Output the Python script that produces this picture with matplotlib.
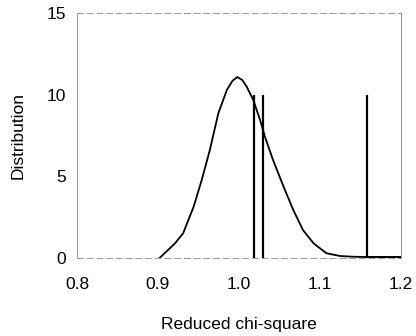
import matplotlib
matplotlib.use("Agg")
import matplotlib.pyplot as plt

# Distribution curve
curve_x = [0.902, 0.921, 0.931, 0.944, 0.954, 0.964, 0.9745, 0.985, 0.992, 0.998,
           1.004, 1.0095, 1.0177, 1.026, 1.032, 1.042, 1.055, 1.067, 1.079,
           1.092, 1.108, 1.125, 1.140, 1.158, 1.200]
curve_y = [0.00, 0.90, 1.51, 3.14, 4.78, 6.61, 8.86, 10.29, 10.85, 11.08,
           10.90, 10.49, 9.67, 8.45, 7.43, 6.00, 4.37, 2.94, 1.71,
           0.90, 0.29, 0.12, 0.08, 0.06, 0.06]

# Vertical marker lines
marker_x = [1.0187, 1.030, 1.1577]
marker_h = [10, 10, 10]

xticks = [0.8, 0.9, 1.0, 1.1, 1.2]
xtick_labels = ["0.8", "0.9", "1.0", "1.1", "1.2"]
yticks = [0, 5, 10, 15]
ytick_labels = ["0", "5", "10", "15"]

plt.rcParams['font.family'] = ['Liberation Sans', 'DejaVu Sans']

fig = plt.figure(figsize=(4.16, 3.36), dpi=100)
ax = fig.add_axes([77/416, 1 - 258/336, (401-77)/416, (258-13)/336])

ax.plot(curve_x, curve_y, color='black', lw=1.3, solid_joinstyle='round')
ax.vlines(marker_x, 0, marker_h, color='black', lw=1.6)
ax.plot([marker_x[2], 1.2], [0.06, 0.06], color='black', lw=2.0)

ax.set_xlim(0.8, 1.2)
ax.set_ylim(0, 15)
ax.set_xticks(xticks)
ax.set_xticklabels(xtick_labels)
ax.set_yticks(yticks)
ax.set_yticklabels(ytick_labels)
ax.tick_params(length=0, labelsize=12.5)
ax.tick_params(axis='x', pad=14)
ax.tick_params(axis='y', pad=8)

for s in ['left', 'right']:
    ax.spines[s].set_color('#888888')
    ax.spines[s].set_linewidth(0.6)
for s in ['top', 'bottom']:
    ax.spines[s].set_color('#999999')
    ax.spines[s].set_linewidth(0.7)
    ax.spines[s].set_linestyle((0, (6, 4)))

ax.set_xlabel("Reduced chi-square", fontsize=12.5, va='center')
ax.xaxis.set_label_coords(0.5, (258 - 325) / 245)
ax.set_ylabel("Distribution", fontsize=12.5, va='center')
ax.yaxis.set_label_coords((18 - 77) / 324, 0.5)

fig.savefig("out.png", dpi=100)
